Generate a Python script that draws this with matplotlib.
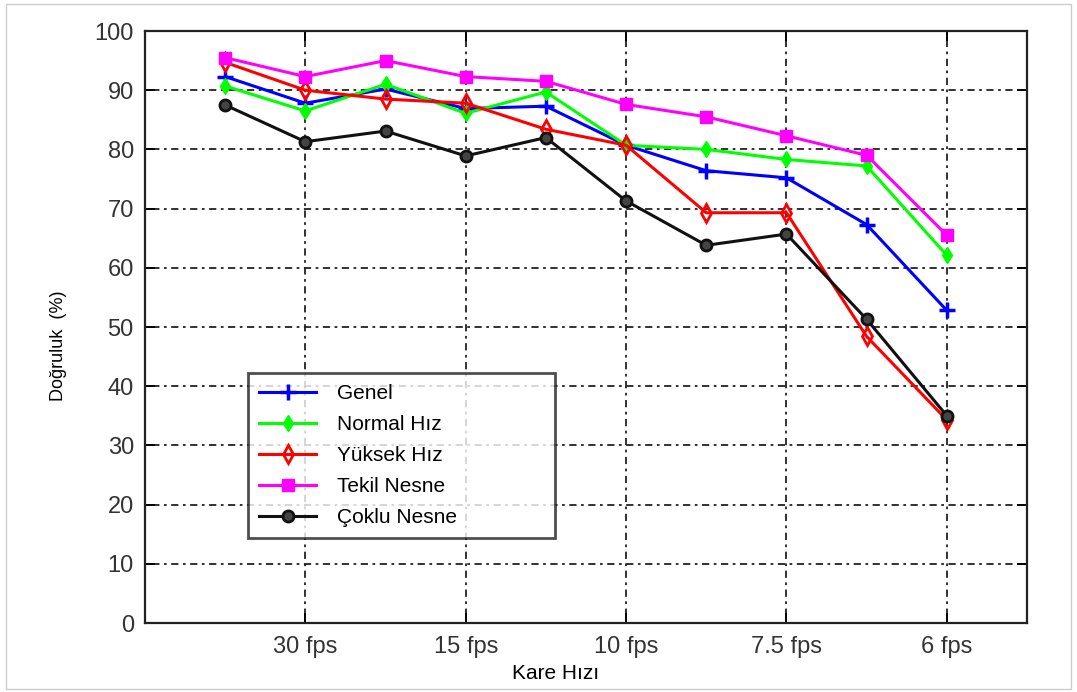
import matplotlib
matplotlib.use("Agg")
import matplotlib.pyplot as plt
from matplotlib.patches import Rectangle

x_pos = [1, 2, 3, 4, 5, 6, 7, 8, 9, 10]
tick_pos = [2, 4, 6, 8, 10]
tick_labels = ["30 fps", "15 fps", "10 fps", "7.5 fps", "6 fps"]

genel = [92.3, 87.8, 90.2, 86.9, 87.3, 80.7, 76.4, 75.2, 67.3, 52.8]
normal = [90.7, 86.5, 91.0, 86.1, 89.7, 80.7, 80.0, 78.3, 77.2, 62.1]
yuksek = [94.7, 90.0, 88.5, 87.8, 83.4, 80.7, 69.3, 69.3, 48.4, 34.3]
tekil = [95.5, 92.3, 95.0, 92.3, 91.5, 87.6, 85.5, 82.3, 79.0, 65.5]
coklu = [87.5, 81.3, 83.1, 78.9, 82.0, 71.3, 63.8, 65.7, 51.3, 35.0]

plt.rcParams['font.family'] = ['Liberation Sans', 'DejaVu Sans']

fig = plt.figure(figsize=(10.77, 6.92), dpi=100)
ax = fig.add_axes([0.1346, 0.0997, 0.819, 0.8555])

lw = 2.2
ax.plot(x_pos, genel, color='#0000ff', marker='+', ms=11, mew=2.5, lw=lw, label='Genel')
ax.plot(x_pos, normal, color='#00ff00', marker='d', ms=8, lw=lw, label='Normal Hız')
ax.plot(x_pos, yuksek, color='#ff0000', marker='d', ms=9, mfc='none', mew=2, lw=lw, label='Yüksek Hız')
ax.plot(x_pos, tekil, color='#ff00ff', marker='s', ms=9, lw=lw, label='Tekil Nesne')
ax.plot(x_pos, coklu, color='#111111', marker='o', ms=8, mfc='#444444', mew=2, lw=lw, label='Çoklu Nesne')

ax.set_xlim(0, 11)
ax.set_ylim(0, 100)
ax.set_xticks(tick_pos)
ax.set_xticklabels(tick_labels, fontsize=18)
ax.set_yticks(range(0, 101, 10))
ax.grid(True, color='#222222', linestyle=(0, (1.5, 2.5, 4, 2.5)), linewidth=1.3)
ax.tick_params(direction='in', top=True, right=True, labelsize=17, length=7, width=1.4,
               pad=8, labelcolor='#333333')
ax.tick_params(axis='x', pad=9)
for s in ax.spines.values():
    s.set_linewidth(1.6)
    s.set_color('#222222')

ax.set_xlabel('Kare Hızı', fontsize=15)
ax.xaxis.set_label_coords(0.465, -0.069)
ax.set_ylabel('Doğruluk  (%)', fontsize=13)
ax.yaxis.set_label_coords(-0.088, 0.468)

leg = ax.legend(loc='upper left', bbox_to_anchor=(0.1168, 0.149, 0.348, 0.2733),
                mode='expand', fontsize=15, borderaxespad=0,
                frameon=True, fancybox=False, edgecolor='#222222',
                handlelength=2.7, handletextpad=1.0, labelspacing=0.57, borderpad=0.55)
leg.get_frame().set_linewidth(2)

fig.patches.append(Rectangle((0.006, 0.004), 0.988, 0.99, transform=fig.transFigure,
                             fill=False, edgecolor='#cccccc', lw=1))

fig.savefig('out.png', dpi=100)
